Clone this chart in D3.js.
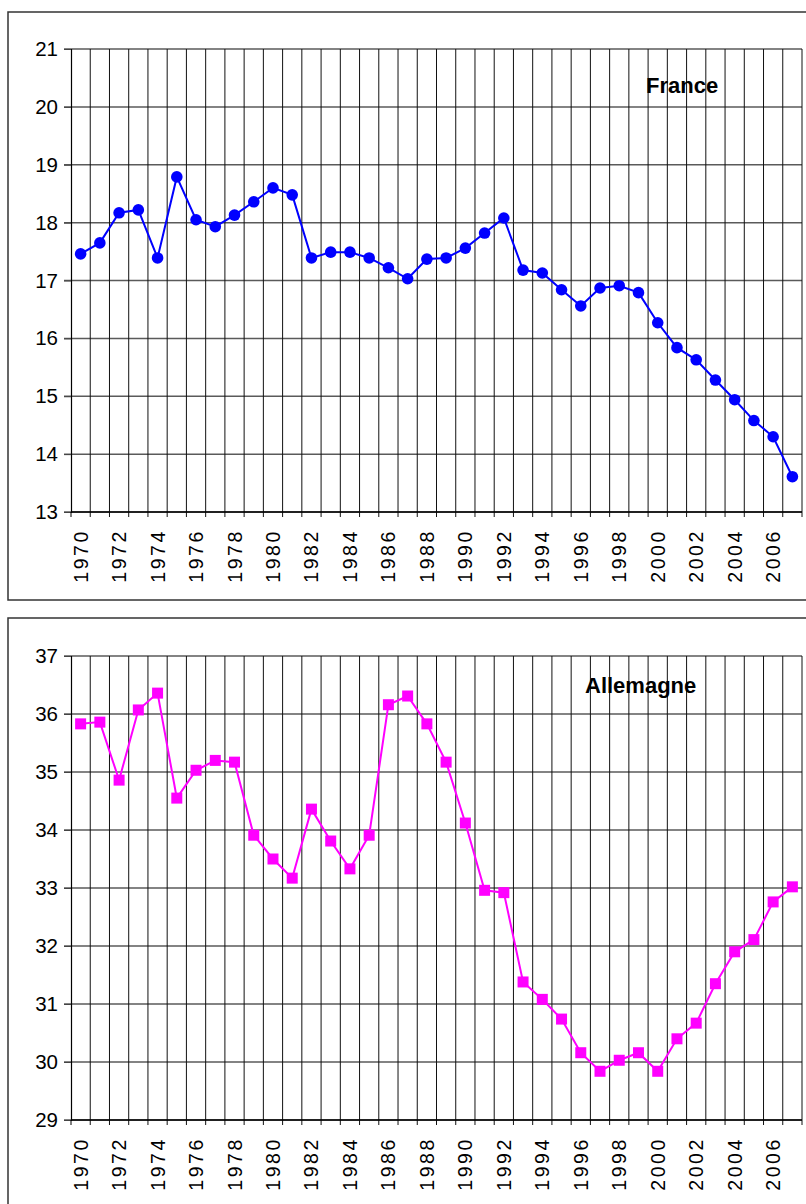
<!DOCTYPE html>
<html><head><meta charset="utf-8">
<script src="https://cdn.jsdelivr.net/npm/d3@7"></script>
<style>body{margin:0;background:#fff}svg{display:block;font-family:Arial,"Liberation Sans",sans-serif}</style>
</head><body><svg id="c" width="806" height="1204"></svg>
<script>
const years = d3.range(1970, 2008);
const france = [17.46,17.65,18.17,18.22,17.39,18.79,18.05,17.93,18.13,18.36,18.6,18.48,17.39,17.49,17.49,17.39,17.22,17.03,17.37,17.39,17.56,17.82,18.08,17.18,17.13,16.84,16.56,16.87,16.91,16.79,16.27,15.84,15.63,15.28,14.94,14.58,14.3,13.61];
const allemagne = [35.83,35.86,34.86,36.07,36.36,34.55,35.03,35.2,35.17,33.91,33.5,33.17,34.36,33.81,33.33,33.91,36.16,36.31,35.83,35.17,34.12,32.96,32.92,31.38,31.08,30.74,30.16,29.84,30.03,30.16,29.84,30.4,30.67,31.35,31.9,32.11,32.76,33.02];
const franceTicks = d3.range(13, 22);
const allemagneTicks = d3.range(29, 38);
const tickYears = d3.range(1970, 2008, 2);

const svg = d3.select("#c");

function panel(cfg){
  const g = svg.append("g");
  g.append("rect").attr("x",8).attr("y",cfg.frameTop).attr("width",820).attr("height",cfg.frameH)
    .attr("fill","#fff").attr("stroke","#333").attr("stroke-width",1.5);
  const x = d3.scaleBand().domain(years).range([71,802]).padding(0);
  const y = d3.scaleLinear().domain([cfg.ticks[0], cfg.ticks[cfg.ticks.length-1]]).range([cfg.bottom, cfg.top]);
  g.append("g").selectAll("line").data(cfg.ticks).join("line")
    .attr("x1",64).attr("x2",802).attr("y1",d=>y(d)).attr("y2",d=>y(d))
    .attr("stroke","#5a5a5a").attr("stroke-width",1.5);
  const bounds = years.map(d=>x(d)).concat([x.range()[1]]);
  g.append("g").selectAll("line").data(bounds.slice(1)).join("line")
    .attr("x1",d=>d).attr("x2",d=>d).attr("y1",cfg.top).attr("y2",cfg.bottom+5)
    .attr("stroke","#111").attr("stroke-width",1);
  const ya = d3.axisLeft(y).tickValues(cfg.ticks).tickSize(7).tickPadding(6).tickFormat(d3.format("d"));
  const yg = g.append("g").attr("transform","translate(71,0)").call(ya);
  yg.select(".domain").attr("stroke","#000").attr("stroke-width",1.2);
  yg.selectAll(".tick line").attr("stroke","#444");
  yg.selectAll("text").attr("font-size",20.5).attr("fill","#000").attr("font-family","Arial, 'Liberation Sans', sans-serif");
  g.append("line").attr("x1",71).attr("x2",802).attr("y1",cfg.bottom).attr("y2",cfg.bottom).attr("stroke","#000").attr("stroke-width",1.5);
  g.append("line").attr("x1",71).attr("x2",71).attr("y1",cfg.bottom).attr("y2",cfg.bottom+5).attr("stroke","#000");
  g.append("g").selectAll("text").data(tickYears).join("text")
    .attr("transform",d=>`translate(${x(d)+x.bandwidth()/2},${cfg.bottom+17}) rotate(-90)`)
    .attr("text-anchor","end").attr("dominant-baseline","central")
    .attr("font-size",19.5).attr("letter-spacing",2.6).attr("fill","#000").text(d=>d);
  const line = d3.line().x((d,i)=>x(years[i])+x.bandwidth()/2).y(d=>y(d));
  g.append("path").datum(cfg.data).attr("d",line).attr("fill","none").attr("stroke",cfg.color).attr("stroke-width",2);
  if(cfg.marker==="circle"){
    g.append("g").selectAll("circle").data(cfg.data).join("circle")
      .attr("cx",(d,i)=>x(years[i])+x.bandwidth()/2).attr("cy",d=>y(d)).attr("r",5.8).attr("fill",cfg.color);
  } else {
    g.append("g").selectAll("rect").data(cfg.data).join("rect")
      .attr("x",(d,i)=>x(years[i])+x.bandwidth()/2-5.5).attr("y",d=>y(d)-5.5).attr("width",11).attr("height",11).attr("fill",cfg.color);
  }
  g.append("text").attr("x",cfg.titleX).attr("y",cfg.titleY).attr("font-size",22).attr("font-weight","bold").attr("fill","#000").text(cfg.title);
}

panel({frameTop:12, frameH:588, top:49, bottom:512, ticks:franceTicks, data:france, color:"#0000FF", marker:"circle", title:"France", titleX:646, titleY:93});
panel({frameTop:618, frameH:620, top:656, bottom:1120, ticks:allemagneTicks, data:allemagne, color:"#FF00FF", marker:"square", title:"Allemagne", titleX:585, titleY:693});
</script>
</body></html>
